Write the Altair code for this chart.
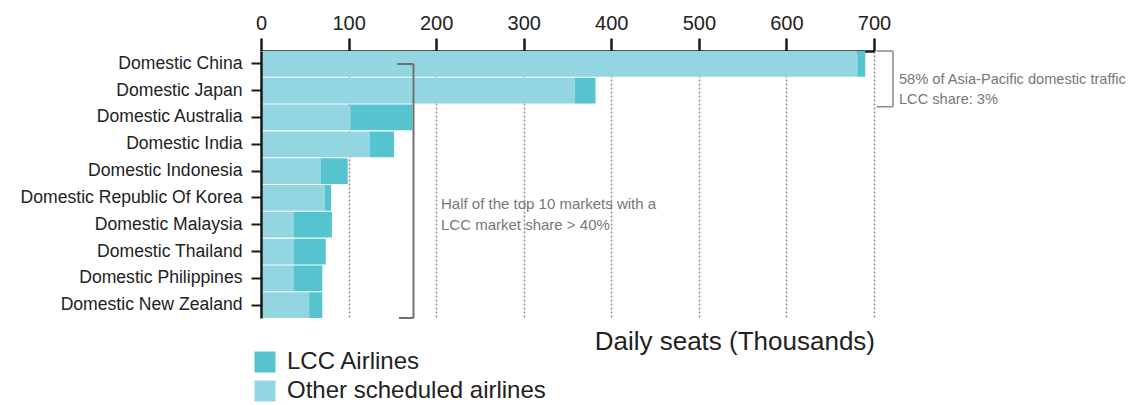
import altair as alt
import pandas as pd

# ---- data ----
markets = [
    "Domestic China",
    "Domestic Japan",
    "Domestic Australia",
    "Domestic India",
    "Domestic Indonesia",
    "Domestic Republic Of Korea",
    "Domestic Malaysia",
    "Domestic Thailand",
    "Domestic Philippines",
    "Domestic New Zealand",
]
other_seats = [681, 358, 102, 124, 68, 73, 37, 37, 37, 55]
lcc_seats = [9, 24, 71, 28, 31, 7, 44, 37, 33, 15]
series = ["LCC Airlines", "Other scheduled airlines"]
series_colors = ["#55C4CF", "#93D6E2"]
x_ticks = [0, 100, 200, 300, 400, 500, 600, 700]
axis_title = "Daily seats (Thousands)"
note_left = ["Half of the top 10 markets with a", "LCC market share > 40%"]
note_right = ["58% of Asia-Pacific domestic traffic", "LCC share: 3%"]

rows = []
for m, o, l in zip(markets, other_seats, lcc_seats):
    rows.append({"market": m, "series": series[1], "seats": o, "order": 0})
    rows.append({"market": m, "series": series[0], "seats": l, "order": 1})
df = pd.DataFrame(rows)

W, H = 613, 267
FONT = "Liberation Sans"
NOTE_FONT = "Liberation Sans"

bars = alt.Chart(df).mark_bar(strokeWidth=0).encode(
    x=alt.X(
        "seats:Q",
        stack="zero",
        scale=alt.Scale(domain=[0, 700], nice=False),
        axis=alt.Axis(
            orient="top",
            values=x_ticks,
            title=None,
            labelFontSize=20,
            labelColor="#222222",
            labelFont=FONT,
            labelPadding=5,
            labelFlush=False,
            domainColor="#1a1a1a",
            domainWidth=2.5,
            tickColor="#1a1a1a",
            tickWidth=2.5,
            tickSize=13,
            grid=True,
            gridColor="#8c8c8c",
            gridDash=[2, 2],
            gridWidth=1.5,
            zindex=0,
        ),
    ),
    y=alt.Y(
        "market:N",
        sort=markets,
        scale=alt.Scale(paddingInner=0.04, paddingOuter=0),
        axis=alt.Axis(
            title=None,
            labelFontSize=17.6,
            labelColor="#222222",
            labelFont=FONT,
            labelPadding=9,
            labelLimit=400,
            tickSize=10,
            tickWidth=2,
            tickColor="#1a1a1a",
            domainColor="#1a1a1a",
            domainWidth=2.5,
            grid=False,
            zindex=1,
        ),
    ),
    color=alt.Color(
        "series:N",
        scale=alt.Scale(domain=series, range=series_colors),
        legend=alt.Legend(
            title=None,
            orient="none",
            legendX=-8,
            legendY=299,
            symbolType="square",
            symbolSize=441,
            symbolStrokeWidth=0,
            symbolOpacity=1,
            labelFontSize=24,
            labelFont=FONT,
            labelColor="#222222",
            labelOffset=10,
            labelLimit=500,
            rowPadding=5,
            padding=0,
        ),
    ),
    order=alt.Order("order:Q"),
)

one = pd.DataFrame({"k": [0]})


def seg(x1, x2, y1, y2, color, width):
    return alt.Chart(one).mark_rule(color=color, strokeWidth=width).encode(
        x=alt.value(x1), x2=alt.value(x2), y=alt.value(y1), y2=alt.value(y2)
    )


br1_c = "#707070"
br2_c = "#8a8a8a"
brackets = [
    seg(152.5, 152.5, 13, 267, br1_c, 2),
    seg(136, 152.5, 13, 13, br1_c, 2),
    seg(138, 152.5, 267, 267, br1_c, 2),
    seg(632, 632, 0, 55.7, br2_c, 1.5),
    seg(615.7, 632, 0, 0, br2_c, 1.5),
    seg(615.7, 632, 55.7, 55.7, br2_c, 1.5),
]

title_txt = alt.Chart(one).mark_text(
    align="right", baseline="middle", fontSize=26, font=FONT, color="#222222"
).encode(x=alt.value(W + 1), y=alt.value(290.5), text=alt.value(axis_title))

left_txt = alt.Chart(one).mark_text(
    align="left", baseline="middle", fontSize=15, font=NOTE_FONT, color="#777777",
    lineHeight=21,
).encode(x=alt.value(180), y=alt.value(152.5), text=alt.value(note_left))

right_txt = alt.Chart(one).mark_text(
    align="left", baseline="middle", fontSize=14.6, font=NOTE_FONT, color="#777777",
    lineHeight=20,
).encode(x=alt.value(638), y=alt.value(29), text=alt.value(note_right))

chart = alt.layer(bars, *brackets, title_txt, left_txt, right_txt).properties(
    width=W,
    height=H,
    autosize=alt.AutoSizeParams(type="none"),
    padding={"left": 261, "top": 51, "right": 1136 - 261 - W, "bottom": 405 - 51 - H},
    background="white",
).configure_view(stroke=None)

chart.save("out.html", embed_options={"renderer": "svg", "actions": False})
